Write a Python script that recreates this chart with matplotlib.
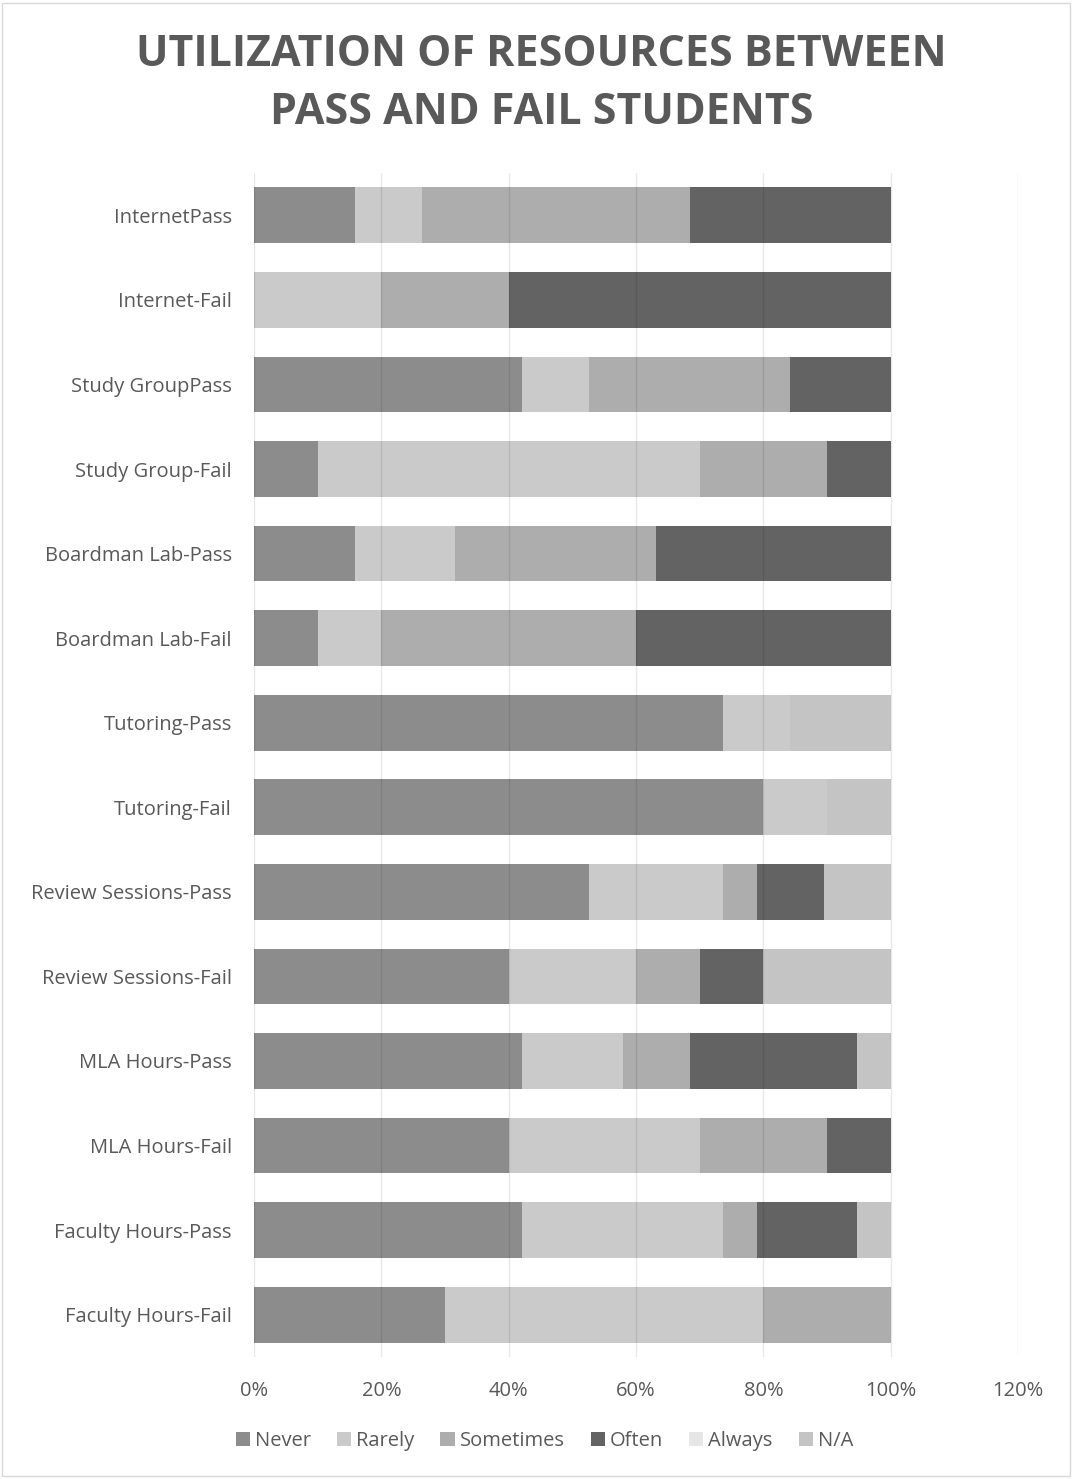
import numpy as np
import matplotlib.pyplot as plt
from matplotlib.patches import Rectangle

plt.rcParams['font.family'] = ['Open Sans', 'DejaVu Sans']

categories = ['InternetPass', 'Internet-Fail', 'Study GroupPass', 'Study Group-Fail',
              'Boardman Lab-Pass', 'Boardman Lab-Fail', 'Tutoring-Pass', 'Tutoring-Fail',
              'Review Sessions-Pass', 'Review Sessions-Fail', 'MLA Hours-Pass',
              'MLA Hours-Fail', 'Faculty Hours-Pass', 'Faculty Hours-Fail']

# shares per category (pass n=19, fail n=10)
never = [3/19, 0.0, 8/19, 0.1, 3/19, 0.1, 14/19, 0.8, 10/19, 0.4, 8/19, 0.4, 8/19, 0.3]
rarely = [2/19, 0.2, 2/19, 0.6, 3/19, 0.1, 2/19, 0.1, 4/19, 0.2, 3/19, 0.3, 6/19, 0.5]
sometimes = [8/19, 0.2, 6/19, 0.2, 6/19, 0.4, 0.0, 0.0, 1/19, 0.1, 2/19, 0.2, 1/19, 0.2]
often = [6/19, 0.6, 3/19, 0.1, 7/19, 0.4, 0.0, 0.0, 2/19, 0.1, 5/19, 0.1, 3/19, 0.0]
always = [0.0] * 14
na = [0.0, 0.0, 0.0, 0.0, 0.0, 0.0, 3/19, 0.1, 2/19, 0.2, 1/19, 0.0, 1/19, 0.0]

series = [('Never', never, '#8c8c8c'), ('Rarely', rarely, '#cacaca'),
          ('Sometimes', sometimes, '#adadad'), ('Often', often, '#636363'),
          ('Always', always, '#e6e6e6'), ('N/A', na, '#c4c4c4')]

fig = plt.figure(figsize=(10.72, 14.79), dpi=100)
ax = fig.add_axes([254/1072, 1 - 1357/1479, (1018-254)/1072, (1357-173)/1479])

y = np.arange(len(categories))
left = np.zeros(len(categories))
for name, vals, col in series:
    vals = np.array(vals)
    ax.barh(y, vals, left=left, height=0.66, color=col, label=name, zorder=2)
    left += vals

ax.set_xlim(0, 1.2)
ax.set_ylim(len(categories) - 0.5, -0.5)
ax.set_xticks(np.arange(0, 1.21, 0.2))
ax.set_xticklabels([f'{int(round(v*100))}%' for v in np.arange(0, 1.21, 0.2)])
ax.set_yticks(y)
ax.set_yticklabels(categories)
ax.grid(axis='x', color='black', linewidth=1, zorder=3, alpha=0.09)
ax.set_axisbelow(False)
for s in ax.spines.values():
    s.set_visible(False)
ax.tick_params(axis='both', length=0, labelsize=14.5, colors='#595959')
ax.tick_params(axis='y', pad=16)
ax.tick_params(axis='x', pad=17)

fig.text(0.505, 1 - 55/1479, 'UTILIZATION OF RESOURCES BETWEEN', ha='center', va='center',
         fontsize=31, fontweight='bold', color='#595959')
fig.text(0.505, 1 - 112/1479, 'PASS AND FAIL STUDENTS', ha='center', va='center',
         fontsize=31, fontweight='bold', color='#595959')

leg = fig.legend(loc='center', bbox_to_anchor=(0.508, 1 - 1441/1479), ncol=6,
                 frameon=False, fontsize=14.5, handlelength=0.7, handleheight=0.7,
                 handletextpad=0.25, columnspacing=1.3)
for t in leg.get_texts():
    t.set_color('#595959')

fig.patches.append(Rectangle((0.002, 0.002), 0.996, 0.996, transform=fig.transFigure,
                             fill=False, edgecolor='#d9d9d9', linewidth=1))

fig.savefig('out.png', dpi=100)
